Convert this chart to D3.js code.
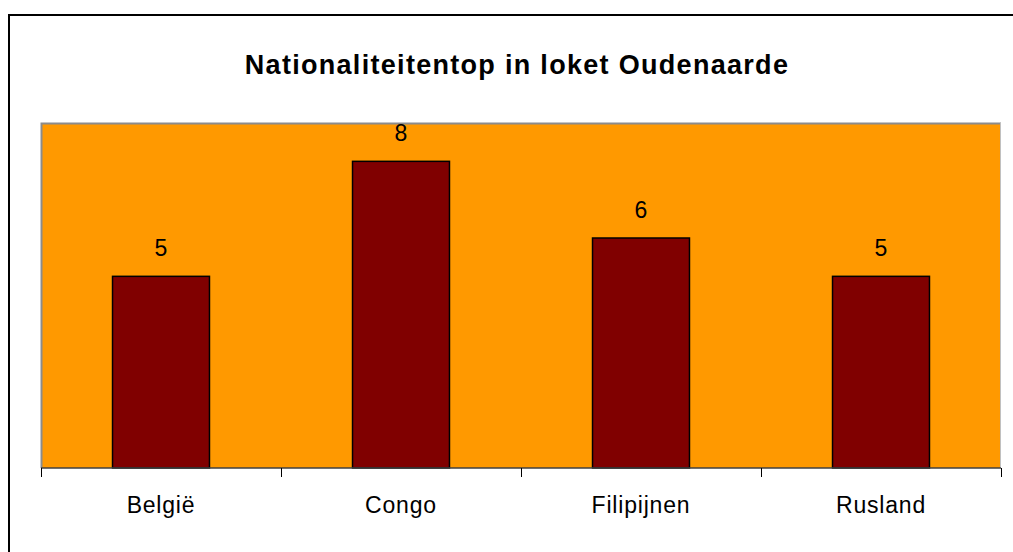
<!DOCTYPE html>
<meta charset="utf-8">
<style>
  body { margin: 0; background: #fff; }
  text { font-family: "Liberation Sans", Arial, sans-serif; fill: #000; }
</style>
<svg width="1013" height="552"></svg>
<script src="https://d3js.org/d3.v7.min.js"></script>
<script>
  var categories = ["België", "Congo", "Filipijnen", "Rusland"];
  var values = [5, 8, 6, 5];
  var title = "Nationaliteitentop in loket Oudenaarde";

  var svg = d3.select("svg"),
    margin = { top: 123, right: 12, bottom: 84, left: 41 },
    width = +svg.attr("width") - margin.left - margin.right,
    height = +svg.attr("height") - margin.top - margin.bottom;

  // outer chart frame (only top/left edges fall inside the window)
  svg.append("rect")
    .attr("x", 9).attr("y", 15)
    .attr("width", 1100).attr("height", 600)
    .attr("fill", "none")
    .attr("stroke", "#000")
    .attr("stroke-width", 2);

  svg.append("text")
    .attr("x", 517).attr("y", 74)
    .attr("text-anchor", "middle")
    .style("font-size", "27px")
    .style("letter-spacing", "1.3px")
    .style("font-weight", "bold")
    .text(title);

  var x = d3.scaleBand().domain(categories).range([0, width])
    .paddingInner(0.596).paddingOuter(0.298);
  var xTicks = d3.scaleBand().domain(categories).range([0, width]);
  var y = d3.scaleLinear().domain([0, 9]).range([height, 0]);

  var g = svg.append("g")
    .attr("transform", "translate(" + margin.left + "," + margin.top + ")");

  g.append("rect")
    .attr("width", width).attr("height", height)
    .attr("fill", "#ff9900");
  g.append("path")
    .attr("d", "M0.5," + height + "V0.5H" + width)
    .attr("fill", "none").attr("stroke", "#8c8c8c").attr("stroke-width", 2);
  g.append("path")
    .attr("d", "M" + (width - 0.5) + ",0V" + height)
    .attr("fill", "none").attr("stroke", "#c0c0c0").attr("stroke-width", 1);

  g.selectAll(".bar")
    .data(values)
    .enter().append("rect")
    .attr("class", "bar")
    .attr("x", function(d, i) { return x(categories[i]); })
    .attr("y", function(d) { return y(d); })
    .attr("width", x.bandwidth())
    .attr("height", function(d) { return height - y(d); })
    .attr("fill", "#800000")
    .attr("stroke", "#000")
    .attr("stroke-width", 1.5);

  g.selectAll(".val")
    .data(values)
    .enter().append("text")
    .attr("class", "val")
    .attr("x", function(d, i) { return x(categories[i]) + x.bandwidth() / 2; })
    .attr("y", function(d) { return y(d) - 20; })
    .attr("text-anchor", "middle")
    .style("font-size", "23px")
    .text(function(d) { return d; });

  // x axis: ticks on band boundaries
  var tickPos = categories.map(function(c) { return xTicks(c); }).concat([width]);
  var axis = g.append("g").attr("transform", "translate(0," + height + ")");
  axis.append("line")
    .attr("x1", 0).attr("x2", width)
    .attr("stroke", "#404040").attr("stroke-width", 1.5);
  axis.selectAll(".tick")
    .data(tickPos)
    .enter().append("line")
    .attr("x1", function(d) { return Math.round(d) + 0.5; })
    .attr("x2", function(d) { return Math.round(d) + 0.5; })
    .attr("y1", 0).attr("y2", 9)
    .attr("stroke", "#000");
  axis.selectAll(".lbl")
    .data(categories)
    .enter().append("text")
    .attr("x", function(d) { return xTicks(d) + xTicks.bandwidth() / 2; })
    .attr("y", 45)
    .attr("text-anchor", "middle")
    .style("font-size", "23px")
    .style("letter-spacing", "0.8px")
    .text(function(d) { return d; });
</script>
